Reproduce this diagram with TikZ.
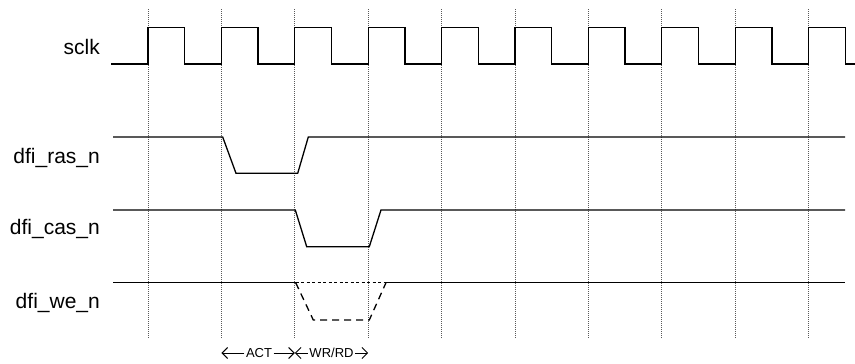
\documentclass[tikz,border=0pt]{standalone}
\usepackage{fontspec}
\setmainfont{Liberation Sans}
\usetikzlibrary{calc,arrows.meta}

\begin{document}
\begin{tikzpicture}[x=1pt,y=-1pt,
  sig/.style={line width=1.3pt},
  tick/.style={dash pattern=on 1pt off 1pt,gray!70!black,line width=0.7pt},
  lbl/.style={anchor=east,inner sep=0pt,font=\fontsize{21}{25}\selectfont},
  note/.style={inner sep=1.5pt,font=\fontsize{13}{16}\selectfont},
  span/.style={line width=1pt,-{Straight Barb[length=5.5pt,width=11pt]}}]
  \useasboundingbox(0,0)rectangle(855,364);
  % one dotted line per clock edge
  \foreach \i in {0,...,9}
    \draw[tick]({148+73.4*\i},9)--({148+73.4*\i},338);
  % sclk
  \node[lbl](sclk) at (100,46.7){sclk};
  \draw[sig](111,64)\foreach \i in {0,...,9}{
    --({148+73.4*\i},64)--({148+73.4*\i},27.7)
    --({184.7+73.4*\i},27.7)--({184.7+73.4*\i},64)}--(855,64);
  % dfi_ras_n
  \node[lbl](ras) at (100,158){dfi\_ras\_n};
  \draw[sig](113,137)--(222.7,137)--(236,173.3)--(297.7,173.3)--(308.3,137)--(845,137);
  % dfi_cas_n
  \node[lbl](cas) at (100,229){dfi\_cas\_n};
  \draw[sig](113,210)--(295.3,210)--(306.7,246.7)--(369.3,246.7)--(381,210)--(845,210);
  % dfi_we_n
  \node[lbl](we) at (100,303){dfi\_we\_n};
  \draw[sig](113,282.7)--(295.7,282.7);
  \draw[sig,dash pattern=on 3pt off 2.5pt](295.7,282.7)--(386,282.7);
  \draw[sig](386,282.7)--(845,282.7);
  \draw[sig,dash pattern=on 7pt off 5pt](295.7,282.7)--(313.3,320)--(369.3,320)--(386,282.7);
  % ACT / WR/RD spans
  \coordinate(t1) at (221.4,353);
  \coordinate(t2) at (294.8,353);
  \coordinate(t3) at (368.2,353);
  \node[note](act) at (259,353){ACT};
  \node[note](wr) at (331.5,353){WR/RD};
  \draw[span](act)--(t1);
  \draw[span](act)--(t2);
  \draw[span](wr)--(t2);
  \draw[span](wr)--(t3);
\end{tikzpicture}
\end{document}
